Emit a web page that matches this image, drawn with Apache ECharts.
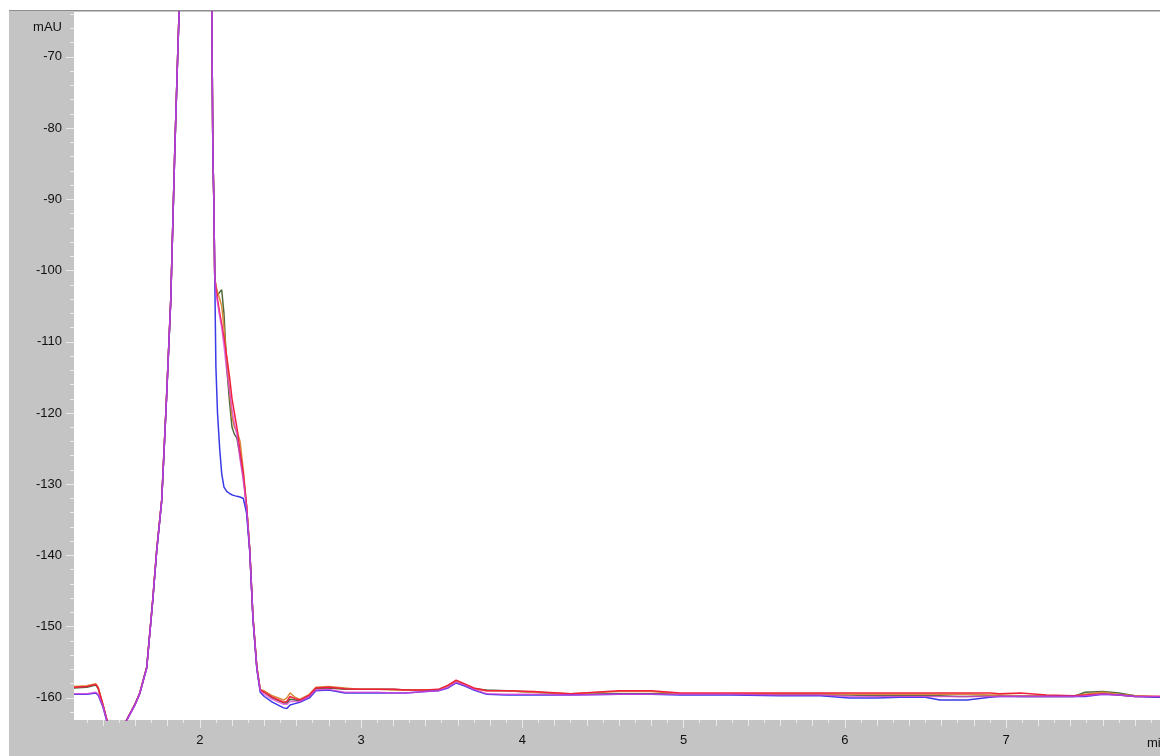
<!DOCTYPE html>
<html><head><meta charset="utf-8">
<script src="https://cdn.jsdelivr.net/npm/echarts@6/dist/echarts.min.js"></script>
<style>
html,body{margin:0;padding:0;background:#fff;width:1160px;height:756px;overflow:hidden}
#frame{position:absolute;left:9px;top:10px;width:1151px;height:745px;border-top:1px solid #8e8e8e;background:#c4c4c4}
#chart{width:1151px;height:745px}
</style></head><body><div id="frame"><div id="chart"></div></div>
<script>
// retention time (min)
const times = [
 1.22, 1.30, 1.355, 1.37, 1.40, 1.43, 1.47, 1.51, 1.546, 1.60,
 1.628, 1.671, 1.708, 1.733, 1.764, 1.793, 1.820, 1.845, 1.864, 1.88,
 1.92, 1.97, 2.02, 2.06, 2.074, 2.081, 2.087, 2.093, 2.10, 2.11,
 2.124, 2.136, 2.15, 2.167, 2.185, 2.20, 2.215, 2.23, 2.25, 2.27,
 2.29, 2.31, 2.33, 2.354, 2.375, 2.40, 2.45, 2.52, 2.54, 2.56,
 2.59, 2.62, 2.68, 2.72, 2.80, 2.90, 3.00, 3.10, 3.20, 3.28,
 3.40, 3.48, 3.54, 3.59, 3.64, 3.70, 3.78, 3.90, 4.07, 4.30,
 4.60, 4.80, 4.98, 5.30, 5.60, 5.85, 6.03, 6.20, 6.34, 6.50,
 6.59, 6.70, 6.76, 6.90, 6.96, 7.09, 7.25, 7.42, 7.49, 7.60,
 7.70, 7.80, 7.955
];
const redTrace = [
 -158.5, -158.4, -158.1, -158.6, -161.0, -163.6, -165.5, -165.3, -163.1, -160.8,
 -159.3, -155.7, -146.3, -139.2, -132.2, -118.2, -104.1, -83.1, -69.0, -58,
 -40, -30, -34, -52, -62, -83, -90, -101, -102.5, -104,
 -106, -107.5, -109.5, -112, -115, -118, -120, -122, -125.5, -128.5,
 -133, -139.2, -148.7, -155.7, -158.9, -159.2, -159.9, -160.6, -160.5, -159.8,
 -160.1, -160.3, -159.6, -158.6, -158.5, -158.7, -158.8, -158.8, -158.8, -158.9,
 -158.9, -158.8, -158.2, -157.5, -158.0, -158.6, -159.0, -159.0, -159.1, -159.4,
 -159.0, -159.0, -159.3, -159.3, -159.3, -159.3, -159.3, -159.3, -159.3, -159.3,
 -159.3, -159.3, -159.3, -159.3, -159.4, -159.3, -159.6, -159.7, -159.6, -159.4,
 -159.6, -159.8, -159.8
];
const orangeTrace = [
 -158.4, -158.3, -158.0, -158.5, -161.0, -163.6, -165.5, -165.3, -163.1, -160.8,
 -159.3, -155.7, -146.3, -139.2, -132.2, -118.2, -104.1, -83.1, -69.0, -58,
 -40, -30, -34, -52, -62, -83, -90, -101, -102, -103,
 -104, -105, -108, -112.5, -117, -120.5, -122, -122.5, -124, -128,
 -133, -139.2, -148.7, -155.7, -158.8, -159.0, -159.7, -160.3, -160.0, -159.3,
 -159.9, -160.2, -159.5, -158.5, -158.4, -158.6, -158.8, -158.8, -158.9, -158.9,
 -158.9, -158.9, -158.3, -157.6, -158.1, -158.7, -159.0, -159.0, -159.2, -159.4,
 -159.1, -159.1, -159.4, -159.4, -159.4, -159.4, -159.5, -159.5, -159.5, -159.5,
 -159.5, -159.5, -159.5, -159.6, -159.6, -159.7, -159.7, -159.7, -159.5, -159.2,
 -159.5, -159.7, -159.8
];
const greenTrace = [
 -158.6, -158.5, -158.2, -158.7, -161.0, -163.6, -165.5, -165.3, -163.1, -160.8,
 -159.3, -155.7, -146.3, -139.2, -132.2, -118.2, -104.1, -83.1, -69.0, -58,
 -40, -30, -34, -52, -62, -83, -90, -101, -102.5, -103.5,
 -103, -102.7, -106, -113.5, -118.5, -122, -123, -123.5, -126, -129,
 -133, -139.2, -148.7, -155.7, -158.9, -159.2, -160.0, -160.7, -160.7, -160.2,
 -160.3, -160.4, -159.7, -158.7, -158.6, -158.8, -158.8, -158.8, -158.8, -158.9,
 -158.9, -158.9, -158.3, -157.6, -158.1, -158.7, -158.9, -159.0, -159.2, -159.5,
 -159.4, -159.4, -159.4, -159.5, -159.5, -159.6, -159.6, -159.7, -159.7, -159.7,
 -159.7, -159.8, -159.8, -159.7, -159.7, -159.8, -159.8, -159.8, -159.2, -159.1,
 -159.3, -159.7, -159.9
];
const blueTrace = [
 -159.5, -159.5, -159.3, -159.6, -161.3, -163.8, -165.6, -165.4, -163.2, -160.9,
 -159.4, -155.8, -146.5, -139.4, -132.4, -118.5, -104.3, -83.3, -69.2, -58.5,
 -40, -30, -34, -52, -62, -83, -90, -101, -113.5, -120,
 -125.2, -128.5, -130.4, -131.0, -131.3, -131.5, -131.6, -131.7, -131.8, -132.0,
 -134, -139.5, -149.0, -156.0, -159.2, -159.8, -160.6, -161.4, -161.5, -161.0,
 -160.8, -160.6, -160.0, -159.0, -158.9, -159.3, -159.3, -159.3, -159.3, -159.3,
 -159.1, -159.0, -158.6, -157.9, -158.3, -158.9, -159.5, -159.6, -159.6, -159.6,
 -159.5, -159.5, -159.6, -159.6, -159.7, -159.7, -160.0, -160.0, -159.9, -159.9,
 -160.3, -160.3, -160.3, -159.9, -159.8, -159.8, -159.8, -159.8, -159.8, -159.5,
 -159.6, -159.8, -159.9
];
const magentaTrace = [
 -159.4, -159.4, -159.2, -159.5, -161.2, -163.7, -165.6, -165.4, -163.2, -160.9,
 -159.4, -155.8, -146.4, -139.3, -132.3, -118.3, -104.2, -83.2, -69.1, -58.2,
 -40, -30, -34, -52, -62, -83, -90, -101, -103, -104.5,
 -106.5, -108, -110.5, -114, -117, -119.5, -121.5, -123, -126.5, -129.5,
 -133.2, -139.3, -148.8, -155.8, -159.0, -159.5, -160.2, -160.9, -160.9, -160.5,
 -160.5, -160.5, -159.8, -158.9, -158.8, -159.2, -159.2, -159.2, -159.3, -159.3,
 -159.1, -159.0, -158.5, -157.8, -158.2, -158.8, -159.4, -159.5, -159.5, -159.6,
 -159.5, -159.5, -159.5, -159.5, -159.6, -159.6, -159.8, -159.8, -159.8, -159.8,
 -159.8, -159.8, -159.8, -159.8, -159.8, -159.8, -159.8, -159.8, -159.7, -159.5,
 -159.6, -159.8, -159.8
];
const yTicks = [-160, -150, -140, -130, -120, -110, -100, -90, -80, -70];
const xTicks = [2, 3, 4, 5, 6, 7];
const xMin = 1.22, xMax = 7.955, yMin = -163.1, yMax = -63.7;
const yName = 'mAU', xName = 'min';

const xMinor = [], xMinor2 = [], yMinor = [];
for (let i = 13; i <= 79; i++) { const v = i / 10; if (i % 2 === 0) xMinor.push(v); else xMinor2.push(v); }
for (let v = -162; v <= -64; v += 2) yMinor.push(v);

const labelFont = { fontFamily: 'Liberation Sans', fontSize: 13, color: '#111111' };
const tickCol = '#e9e9e9';

function mk(vals, color, opacity) {
  return {
    type: 'line', data: times.map((t, i) => [t, vals[i]]), showSymbol: false, symbol: 'none',
    lineStyle: { color: color, width: 1.5, opacity: opacity || 1 }, itemStyle: { color: color },
    animation: false, clip: true, z: 2
  };
}
const hiddenAxis = { axisLine: { show: false }, axisLabel: { show: false }, splitLine: { show: false } };

const chart = echarts.init(document.getElementById('chart'));
chart.setOption({
  backgroundColor: '#c4c4c4',
  animation: false,
  grid: { left: 65, top: 1, right: 0, bottom: 36, show: true, backgroundColor: '#ffffff', borderWidth: 0 },
  xAxis: [
    { type: 'value', min: xMin, max: xMax, position: 'bottom',
      axisLine: { show: false }, splitLine: { show: false },
      axisTick: { show: true, length: 8, customValues: xTicks, lineStyle: { color: tickCol, width: 1 } },
      axisLabel: Object.assign({ customValues: xTicks, margin: 14 }, labelFont) },
    Object.assign({ type: 'value', min: xMin, max: xMax, position: 'bottom', offset: 0,
      axisTick: { show: true, length: 6, customValues: xMinor, lineStyle: { color: tickCol } } }, hiddenAxis),
    Object.assign({ type: 'value', min: xMin, max: xMax, position: 'bottom', offset: 0,
      axisTick: { show: true, length: 3, customValues: xMinor2, lineStyle: { color: tickCol } } }, hiddenAxis)
  ],
  yAxis: [
    { type: 'value', min: yMin, max: yMax, position: 'left',
      axisLine: { show: false }, splitLine: { show: false },
      axisTick: { show: true, length: 8, customValues: yTicks, lineStyle: { color: tickCol } },
      axisLabel: Object.assign({ customValues: yTicks, margin: 12 }, labelFont) },
    Object.assign({ type: 'value', min: yMin, max: yMax, position: 'left', offset: 0,
      axisTick: { show: true, length: 4, customValues: yMinor, lineStyle: { color: tickCol } } }, hiddenAxis)
  ],
  graphic: [
    { type: 'text', x: 53, y: 16, style: { text: yName, textAlign: 'right', textVerticalAlign: 'middle', fill: '#111111', font: '13px "Liberation Sans"' } },
    { type: 'text', x: 1138, y: 732, style: { text: xName, textAlign: 'left', textVerticalAlign: 'middle', fill: '#111111', font: '13px "Liberation Sans"' } }
  ],
  series: [
    mk(greenTrace, '#4f6a3a'),
    mk(orangeTrace, '#d98a3a'),
    mk(redTrace, '#f0203c'),
    mk(blueTrace, '#3a3ae8'),
    mk(magentaTrace, '#e040d8', 0.75)
  ]
});
</script></body></html>
